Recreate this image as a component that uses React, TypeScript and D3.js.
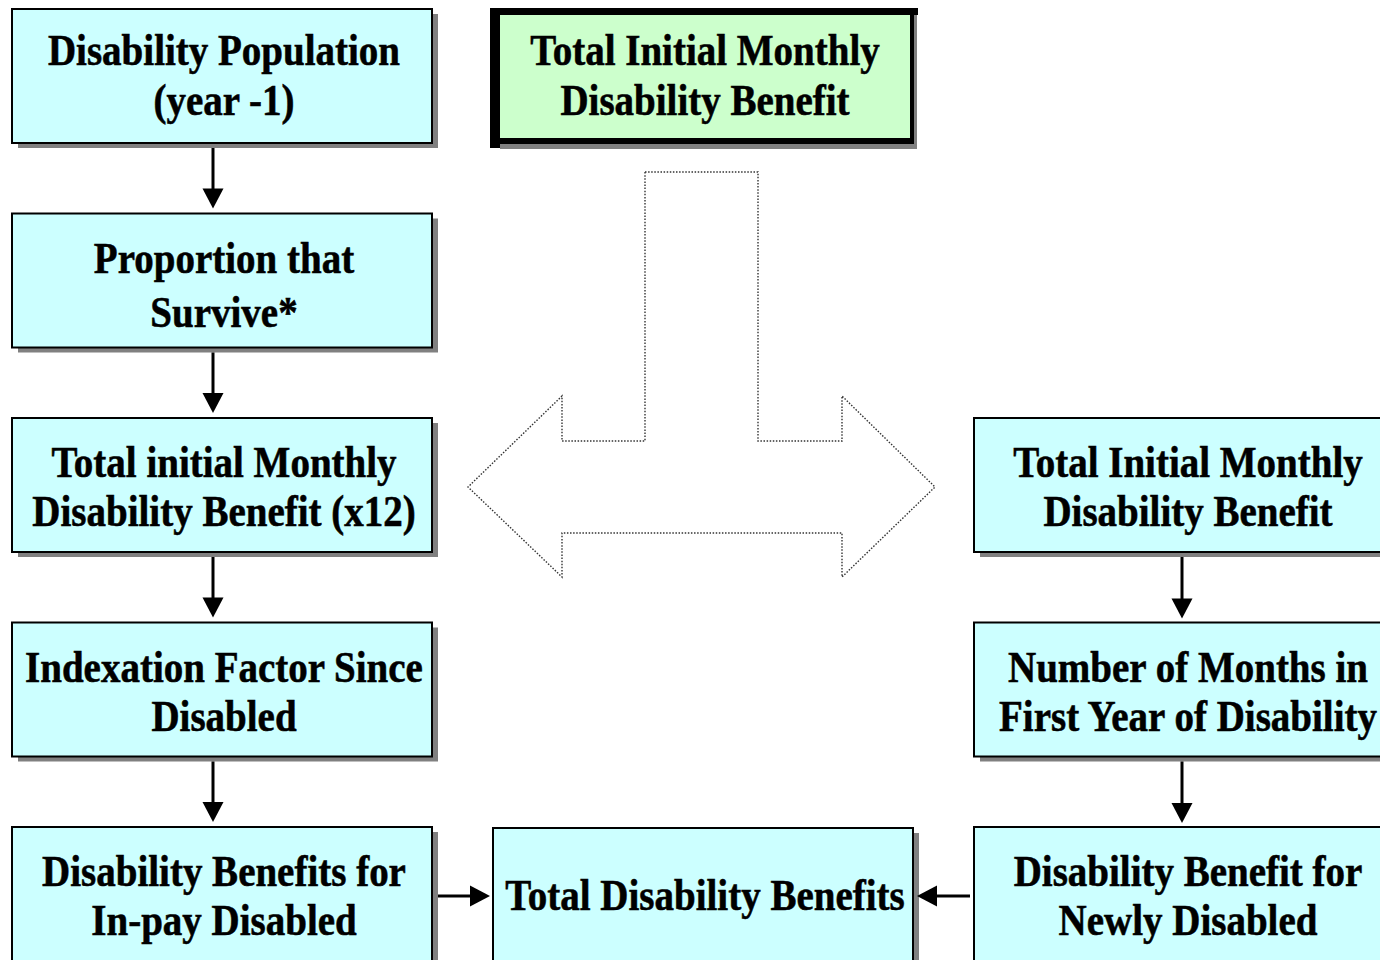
import React from 'react';
import * as d3 from 'd3';

// box labels, top to bottom
const leftLabels: string[][] = [
  ['Disability Population', '(year -1)'],
  ['Proportion that', 'Survive*'],
  ['Total initial Monthly', 'Disability Benefit (x12)'],
  ['Indexation Factor Since', 'Disabled'],
  ['Disability Benefits for', 'In-pay Disabled'],
];
const rightLabels: string[][] = [
  ['Total Initial Monthly', 'Disability Benefit'],
  ['Number of Months in', 'First Year of Disability'],
  ['Disability Benefit for', 'Newly Disabled'],
];
const rightRows = [2, 3, 4];
const topLabel = ['Total Initial Monthly', 'Disability Benefit'];
const totalLabel = 'Total Disability Benefits';

const W = 1380;
const H = 960;
const BOX_H = 134;
const CYAN = '#ccffff';
const GREEN = '#ccffcc';
const SHADOW = '#808080';
const FONT = '"Liberation Serif", "Times New Roman", serif';

const rowY = d3.scaleLinear().domain([0, 4]).range([9, 827]);
const colX = d3.scaleOrdinal<string, number>().domain(['left', 'mid', 'right']).range([12, 493, 974]);
const colW = d3.scaleOrdinal<string, number>().domain(['left', 'mid', 'right']).range([420, 420, 424]);

const line = d3.line<[number, number]>();

const Label = ({ cx, y, text }: { cx: number; y: number; text: string }) => (
  <text
    transform={`translate(${cx},${y}) scale(1,1.15)`}
    textAnchor="middle"
    fontFamily={FONT}
    fontWeight="bold"
    fontSize={39}
    fill="#000"
    stroke="#000"
    strokeWidth={0.5}
  >
    {text}
  </text>
);

const Box = ({ x, y, w, h, lines, single, gap = 50, first = 58 }: any) => {
  const cx = x + w / 2 + 2;
  return (
    <g>
      <rect x={x + 6} y={y + 5} width={w} height={h} fill={SHADOW} />
      <rect x={x} y={y} width={w} height={h} fill={CYAN} stroke="#000" strokeWidth={2} />
      {single ? (
        <Label cx={cx} y={y + 82} text={lines[0]} />
      ) : (
        lines.map((t: string, i: number) => <Label key={i} cx={cx} y={y + first + i * gap} text={t} />)
      )}
    </g>
  );
};

const ArrowV = ({ x, y0, y1 }: { x: number; y0: number; y1: number }) => (
  <g>
    <path d={line([[x, y0], [x, y1 - 18]]) || ''} stroke="#000" strokeWidth={3} fill="none" />
    <path d={line([[x - 10.5, y1 - 20], [x + 10.5, y1 - 20], [x, y1]]) + 'Z'} fill="#000" />
  </g>
);

const ArrowH = ({ y, x0, x1 }: { y: number; x0: number; x1: number }) => {
  const dir = x1 > x0 ? 1 : -1;
  return (
    <g>
      <path d={line([[x0, y], [x1 - dir * 18, y]]) || ''} stroke="#000" strokeWidth={3} fill="none" />
      <path d={line([[x1 - dir * 20, y - 10.5], [x1 - dir * 20, y + 10.5], [x1, y]]) + 'Z'} fill="#000" />
    </g>
  );
};

// dotted T-shaped double arrow outline
const tArrow: [number, number][] = [
  [645, 172], [758, 172], [758, 441], [842, 441], [842, 396], [935, 487],
  [842, 577], [842, 533], [562, 533], [562, 577], [468, 487], [562, 396],
  [562, 441], [645, 441],
];

export default function App() {
  const lx = colX('left');
  const lw = colW('left');
  const rx = colX('right');
  const rw = colW('right');
  const mx = colX('mid');
  const mw = colW('mid');
  const lArrowX = 213;
  const rArrowX = 1182;
  const midY = rowY(4) + 69;

  return (
    <svg
      width={W}
      height={H}
      viewBox={`0 0 ${W} ${H}`}
      style={{ position: 'absolute', left: 0, top: 0, display: 'block', background: '#fff' }}
    >
      <rect width={W} height={H} fill="#fff" />

      {/* top highlighted box */}
      <g>
        <rect x={500} y={15} width={417} height={134} fill={SHADOW} />
        <rect x={490} y={8} width={424} height={136} fill="#000" />
        <rect x={490} y={144} width={10} height={4} fill="#000" />
        <rect x={914} y={8} width={4} height={7} fill="#000" />
        <rect x={500} y={15} width={410} height={123} fill={GREEN} />
        {topLabel.map((t, i) => (
          <Label key={i} cx={705} y={65 + i * 50} text={t} />
        ))}
      </g>

      <path
        d={line(tArrow) + 'Z'}
        fill="none"
        stroke="#333"
        strokeWidth={1.4}
        strokeDasharray="1.5 1.6"
      />

      {leftLabels.map((lines, i) => (
        <Box
          key={'l' + i}
          x={lx}
          y={rowY(i)}
          w={lw}
          h={BOX_H}
          lines={lines}
          first={i === 0 ? 56 : 59}
          gap={i === 1 ? 54 : i === 0 ? 50 : 49}
        />
      ))}
      {leftLabels.slice(1).map((_, i) => (
        <ArrowV key={'la' + i} x={lArrowX} y0={rowY(i) + BOX_H + 5} y1={rowY(i + 1) - 5} />
      ))}

      {rightLabels.map((lines, i) => (
        <Box key={'r' + i} x={rx} y={rowY(rightRows[i])} w={rw} h={BOX_H} lines={lines} first={59} gap={49} />
      ))}
      {rightRows.slice(1).map((r, i) => (
        <ArrowV key={'ra' + i} x={rArrowX} y0={rowY(r - 1) + BOX_H + 5} y1={rowY(r) - 4} />
      ))}

      <Box x={mx} y={rowY(4) + 1} w={mw} h={BOX_H} lines={[totalLabel]} single />

      <ArrowH y={midY} x0={lx + lw + 6} x1={mx - 3} />
      <ArrowH y={midY} x0={rx - 4} x1={mx + mw + 4} />
    </svg>
  );
}
